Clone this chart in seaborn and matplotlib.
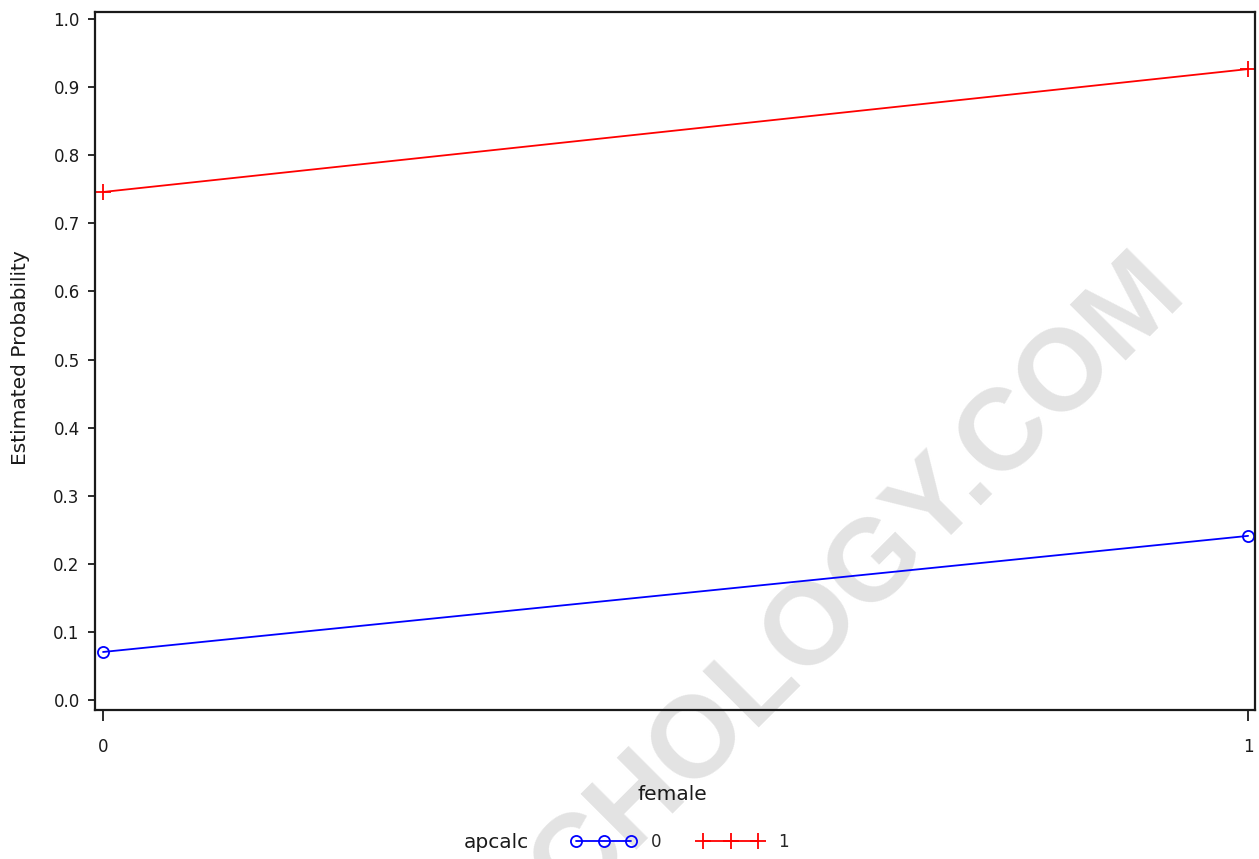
import pandas as pd
import numpy as np
import matplotlib
matplotlib.use("Agg")
import matplotlib.pyplot as plt
import seaborn as sns
from matplotlib.lines import Line2D

# estimated probabilities
female = [0, 1, 0, 1]
apcalc = [0, 0, 1, 1]
prob = [0.0705, 0.241, 0.746, 0.9265]

df = pd.DataFrame({'female': female, 'apcalc': apcalc, 'prob': prob})

sns.set_style('white')
plt.rcParams['font.family'] = ['DejaVu Sans']

fig = plt.figure(figsize=(12.59, 8.59), dpi=100)
ax = fig.add_axes([95/1259, 1 - 710/859, 1160/1259, 698/859])
ax.patch.set_alpha(0)

colors = {0: '#0000ff', 1: '#ff0000'}
marks = {0: 'o', 1: '+'}
msize = {0: 8, 1: 12}
for g in [0, 1]:
    sub = df[df['apcalc'] == g]
    sns.lineplot(data=sub, x='female', y='prob', color=colors[g], marker=marks[g],
                 markersize=msize[g], mfc='none', mec=colors[g], mew=1.3,
                 linewidth=1.3, legend=False, ax=ax)

ax.set_xlim(-0.007, 1.006)
ax.set_ylim(-0.0147, 1.0103)
ax.set_xticks([0, 1])
ax.set_yticks(np.arange(0, 1.01, 0.1))
ax.set_yticklabels([f'{v:.1f}' for v in np.arange(0, 1.01, 0.1)])

for s in ax.spines.values():
    s.set_color('#1a1a1a')
    s.set_linewidth(1.6)

ax.tick_params(axis='y', direction='out', length=5, width=1.3, pad=6,
               labelsize=12, colors='#1a1a1a', left=True)
ax.tick_params(axis='x', direction='out', length=8, width=1.3, pad=12,
               labelsize=12, colors='#1a1a1a', bottom=True)

ax.set_xlabel('')
ax.set_ylabel('')
fig.text(21/1259, 1 - 358/859, 'Estimated Probability', rotation=90,
         ha='center', va='center', fontsize=14.5, color='#1a1a1a')
fig.text(672/1259, 1 - 794/859, 'female', ha='center', va='center',
         fontsize=14.5, color='#1a1a1a')

# legend along the bottom
fig.text(464/1259, 1 - 842/859, 'apcalc', ha='left', va='center',
         fontsize=14.5, color='#1a1a1a')
handles = [Line2D([], [], color=colors[0], marker='o', mfc='none', mec=colors[0],
                  markersize=8, lw=1.3, mew=1.3),
           Line2D([], [], color=colors[1], marker='+', mec=colors[1],
                  markersize=12, lw=1.3, mew=1.3)]
fig.legend(handles, ['0', '1'], loc='center left', ncol=2, frameon=False,
           numpoints=3, handlelength=3.9, handletextpad=0.9, columnspacing=2.2,
           fontsize=12, bbox_to_anchor=(556/1259, 1 - 842/859))

# faint watermark behind the plot
fig.text(1188/1259, 1 - 294/859, 'CHOLOGY.COM', rotation=45, rotation_mode='anchor',
         ha='right', va='baseline', fontsize=83, fontweight='bold',
         family='Liberation Sans', color='#e3e3e3', zorder=-1)

fig.savefig('out.png', dpi=100)
